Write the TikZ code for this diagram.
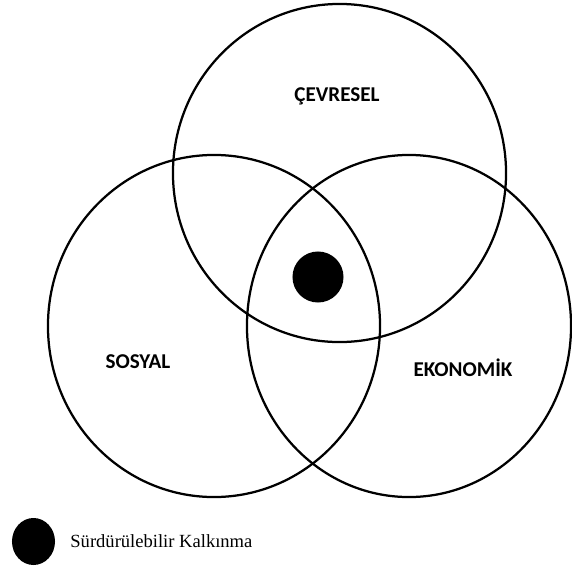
\documentclass[tikz,border=0pt]{standalone}
\usepackage{fontspec}
\setmainfont{Liberation Serif}
\newfontfamily\labelfont{Carlito}
\usetikzlibrary{positioning, shapes.geometric}

\begin{document}
\begin{tikzpicture}
[
    x = 0.025cm, y = -0.025cm, thick,
    every node/.style = {align=center},
  ]

  \tikzset{RingStyle/.style = {shape          = ellipse,
                               draw,
                               line width     = 1.6pt,
                               inner sep      = 0pt,
                               minimum width  = 8.3cm,
                               minimum height = 8.55cm},
           DotStyle/.style  = {fill = black,
                               inner sep = 0pt},
           LabelStyle/.style = {font = \labelfont\bfseries\fontsize{15}{17}\selectfont}}

  \useasboundingbox (0,0) rectangle (572,572);

  % the three rings
  \node[RingStyle, minimum width = 8.325cm, minimum height = 8.45cm](cev) at (339.5,173) {};
  \node[RingStyle](sos) at (214,326) {};
  \node[RingStyle, minimum width = 8.1cm](eko) at (409,326) {};

  % middle point
  \node[DotStyle, shape = circle, minimum size = 1.275cm](mid) at (318,277) {};

  \node[LabelStyle](cevlbl) at (337,96) {ÇEVRESEL};
  \node[LabelStyle](soslbl) at (138,362) {SOSYAL};
  \node[LabelStyle](ekolbl) at (463,368) {EKONOMİK};

  % legend
  \node[DotStyle, shape = ellipse, minimum width = 1.075cm, minimum height = 1.175cm](lgd) at (33.5,541.5) {};
  \node[right = 0.24cm of lgd, font = \fontsize{13.2}{15}\selectfont](lgdtext) {Sürdürülebilir Kalkınma};

\end{tikzpicture}
\end{document}
